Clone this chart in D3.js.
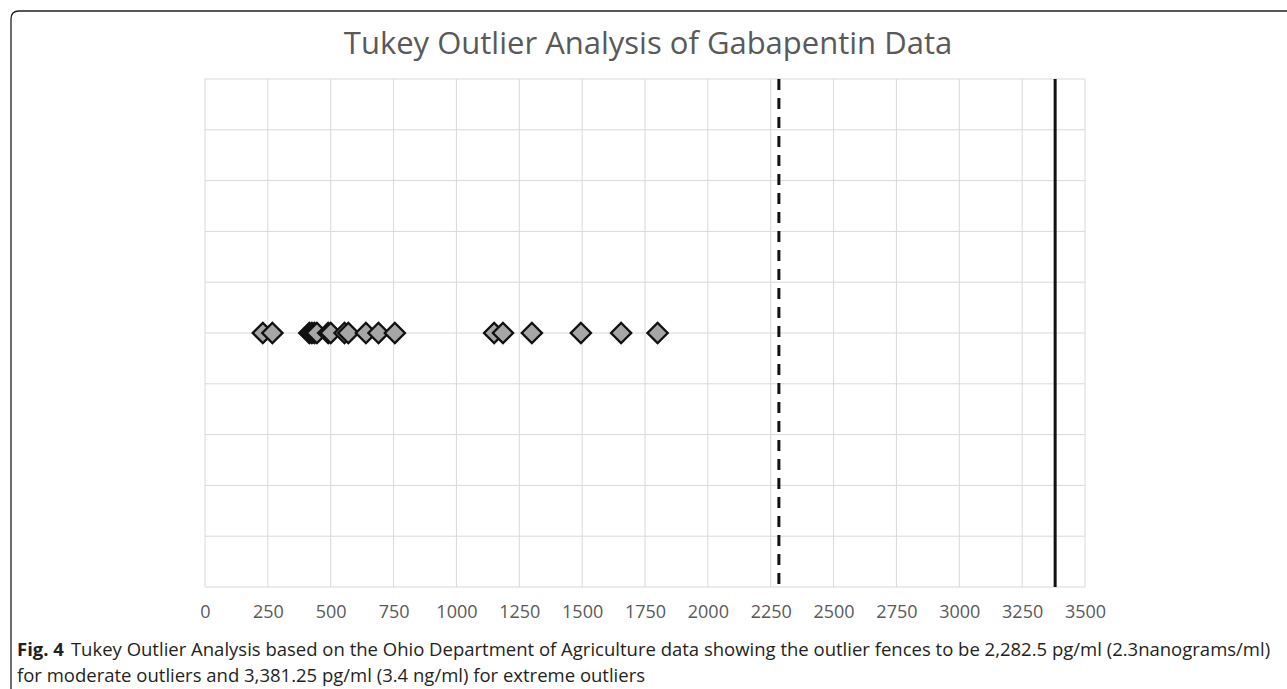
<!DOCTYPE html>
<html>
<head>
<meta charset="utf-8">
<script src="https://cdn.jsdelivr.net/npm/d3@7"></script>
<style>
  html, body { margin: 0; padding: 0; background: #fff; }
  svg { display: block; }
</style>
</head>
<body>
<div id="chart"></div>
<script>
const width = 1287;
const height = 689;

// Gabapentin concentrations (pg/ml)
const values = [230, 268, 415, 425, 435, 445, 490, 500, 555, 570, 640, 690, 755,
  1150, 1185, 1300, 1495, 1655, 1800];
const rowY = 5;
const moderateFence = 2282.5;
const extremeFence = 3381.25;
const xTicks = d3.range(0, 3501, 250);
const yGrid = d3.range(0, 11, 1);

const title = 'Tukey Outlier Analysis of Gabapentin Data';
const captionBold = 'Fig. 4';
const captionLines = [
  'Tukey Outlier Analysis based on the Ohio Department of Agriculture data showing the outlier fences to be 2,282.5 pg/ml (2.3nanograms/ml)',
  'for moderate outliers and 3,381.25 pg/ml (3.4 ng/ml) for extreme outliers'
];

const plot = {left: 205, right: 1085, top: 79, bottom: 587};

const svg = d3.select('#chart').append('svg')
  .attr('width', width)
  .attr('height', height);

// frame around the figure
svg.append('path')
  .attr('d', `M11,${height + 2} L11,19 Q11,11 19,11 L${width + 2},11`)
  .attr('fill', 'none')
  .attr('stroke', '#231f20')
  .attr('stroke-width', 1.3);

const x = d3.scaleLinear()
  .domain([0, 3500])
  .range([plot.left, plot.right]);

const y = d3.scaleLinear()
  .domain([0, 10])
  .range([plot.bottom, plot.top]);

// gridlines
svg.append('g')
  .selectAll('line')
  .data(xTicks)
  .join('line')
    .attr('x1', d => x(d)).attr('x2', d => x(d))
    .attr('y1', plot.top).attr('y2', plot.bottom)
    .attr('stroke', '#d9d9d9');

svg.append('g')
  .selectAll('line')
  .data(yGrid)
  .join('line')
    .attr('x1', plot.left).attr('x2', plot.right)
    .attr('y1', d => y(d)).attr('y2', d => y(d))
    .attr('stroke', '#d9d9d9');

// x axis labels
const xAxis = svg.append('g')
  .attr('transform', `translate(0,${plot.bottom})`)
  .call(d3.axisBottom(x).tickValues(xTicks).tickSize(0).tickPadding(18).tickFormat(d3.format('d')));
xAxis.select('.domain').remove();
xAxis.selectAll('text')
  .attr('fill', '#595959')
  .style('font-family', '"Open Sans", sans-serif')
  .style('font-size', '18px');

// fences
svg.append('line')
  .attr('x1', x(moderateFence)).attr('x2', x(moderateFence))
  .attr('y1', plot.top).attr('y2', plot.bottom)
  .attr('stroke', '#111')
  .attr('stroke-width', 3)
  .attr('stroke-dasharray', '11,8');

svg.append('line')
  .attr('x1', x(extremeFence)).attr('x2', x(extremeFence))
  .attr('y1', plot.top).attr('y2', plot.bottom)
  .attr('stroke', '#111')
  .attr('stroke-width', 3);

// points
const diamond = d3.symbol().type(d3.symbolSquare).size(205);
svg.append('g')
  .selectAll('path')
  .data(values)
  .join('path')
    .attr('d', diamond)
    .attr('transform', d => `translate(${x(d)},${y(rowY)}) rotate(45)`)
    .attr('fill', '#a6a6a6')
    .attr('stroke', '#111')
    .attr('stroke-width', 2.3);

// title
svg.append('text')
  .attr('x', 648)
  .attr('y', 54)
  .attr('text-anchor', 'middle')
  .attr('fill', '#595959')
  .style('font-family', '"Open Sans", sans-serif')
  .style('font-size', '31px')
  .text(title);

// caption
const capFont = '"Open Sans", sans-serif';
const cap1 = svg.append('text')
  .attr('x', 17)
  .attr('y', 656)
  .attr('fill', '#231f20')
  .style('font-family', capFont)
  .style('font-size', '18.5px');
cap1.append('tspan').attr('font-weight', 'bold').text(captionBold);
cap1.append('tspan').attr('dx', 7).text(captionLines[0]);

svg.append('text')
  .attr('x', 17)
  .attr('y', 682)
  .attr('fill', '#231f20')
  .style('font-family', capFont)
  .style('font-size', '18.5px')
  .text(captionLines[1]);
</script>
</body>
</html>
